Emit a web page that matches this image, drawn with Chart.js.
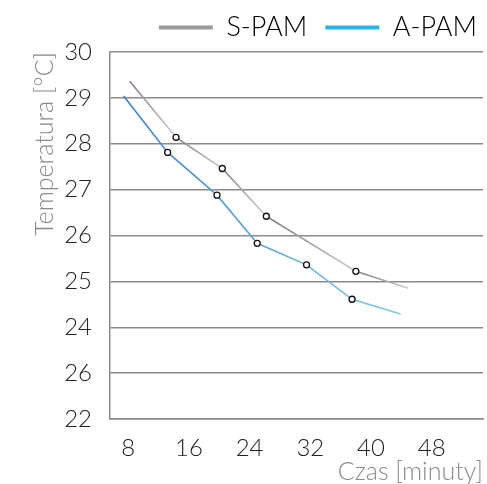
<!DOCTYPE html>
<html>
<head>
<meta charset="utf-8">
<script src="https://cdn.jsdelivr.net/npm/chart.js@4"></script>
<style>
  html, body { margin: 0; padding: 0; background: #fff; }
  #wrap { width: 487px; height: 484px; }
</style>
</head>
<body>
<div id="wrap"><canvas id="chart"></canvas></div>
<script>
const sPamX = [8.2, 14.3, 20.4, 26.2, 38.0, 44.9];
const sPamY = [29.36, 28.14, 27.46, 26.42, 25.22, 24.85];
const sPamMarks = [0, 1, 1, 1, 1, 0];

const aPamX = [7.4, 13.2, 19.7, 25.0, 31.5, 37.5, 43.9];
const aPamY = [29.04, 27.81, 26.88, 25.83, 25.36, 24.61, 24.29];
const aPamMarks = [0, 1, 1, 1, 1, 1, 0];

const xTicks = [8, 16, 24, 32, 40, 48];
// labels shown on the y axis, bottom to top (as printed in the original)
const yTickLabels = ["22", "26", "24", "25", "26", "27", "28", "29", "30"];

const font = "Lato";

function pts(xs, ys) {
  return xs.map((x, i) => ({ x, y: ys[i] }));
}

// each S-PAM segment fades from dark to light
function greySeg(ctx) {
  const c = ctx.chart.ctx;
  const g = c.createLinearGradient(ctx.p0.x, ctx.p0.y, ctx.p1.x, ctx.p1.y);
  g.addColorStop(0, "#8a7a8a");
  g.addColorStop(1, "#cdcdcd");
  return g;
}

function blueLine(ctx) {
  const area = ctx.chart.chartArea;
  if (!area) return "#4a9fdc";
  const g = ctx.chart.ctx.createLinearGradient(area.left, 0, area.right - 60, 0);
  g.addColorStop(0, "#3a7fcc");
  g.addColorStop(1, "#86d0ea");
  return g;
}

// tweak the space under the legend and push it to the right edge
const legendGap = {
  id: "legendGap",
  beforeInit(chart) {
    const fit = chart.legend.fit;
    chart.legend.fit = function () {
      fit.call(this);
      this.height += 1;
    };
  },
  afterLayout(chart) {
    chart.legend.left += 12;
    chart.legend.right += 12;
  }
};

new Chart(document.getElementById("chart"), {
  type: "line",
  data: {
    datasets: [
      {
        label: "S-PAM",
        data: pts(sPamX, sPamY),
        borderColor: "#999999",
        backgroundColor: "#999999",
        borderWidth: 1.6,
        segment: { borderColor: greySeg },
        pointRadius: sPamMarks.map(m => m ? 3 : 0),
        pointBorderColor: "#111",
        pointBackgroundColor: "#fff",
        pointBorderWidth: 1.3,
        tension: 0
      },
      {
        label: "A-PAM",
        data: pts(aPamX, aPamY),
        borderColor: blueLine,
        backgroundColor: "#27b3e6",
        borderWidth: 1.6,
        pointRadius: aPamMarks.map(m => m ? 3 : 0),
        pointBorderColor: "#111",
        pointBackgroundColor: "#fff",
        pointBorderWidth: 1.3,
        tension: 0
      }
    ]
  },
  plugins: [legendGap],
  options: {
    responsive: true,
    maintainAspectRatio: false,
    animation: false,
    layout: { padding: { left: 30, right: 4, top: -4, bottom: 0 } },
    plugins: {
      tooltip: { enabled: false },
      legend: {
        align: "end",
        labels: {
          boxWidth: 54,
          boxHeight: 4,
          padding: 18,
          color: "#222",
          font: { family: font, size: 27, weight: 300 },
          generateLabels: chart => chart.data.datasets.map((d, i) => ({
            text: d.label,
            fillStyle: i === 0 ? "#9b9b9b" : "#27b3e6",
            strokeStyle: i === 0 ? "#9b9b9b" : "#27b3e6",
            lineWidth: 0,
            datasetIndex: i
          }))
        }
      }
    },
    scales: {
      x: {
        type: "linear",
        min: 5.6,
        max: 54.76,
        afterBuildTicks: axis => { axis.ticks = xTicks.map(v => ({ value: v })); },
        afterFit: axis => { axis.height = 65; },
        grid: { display: false, drawTicks: false },
        border: { display: true, color: "#8a8a8a", width: 1.5 },
        ticks: {
          color: "#222",
          padding: 15,
          font: { family: font, size: 24, weight: 300 },
          maxRotation: 0
        },
        title: {
          display: true,
          text: "Czas [minuty]",
          align: "end",
          color: "#8a8a8a",
          padding: { top: 0, bottom: -3 },
          font: { family: font, size: 25, weight: 300 }
        }
      },
      y: {
        min: 22,
        max: 30,
        afterFit: axis => { axis.width = 80; },
        ticks: {
          stepSize: 1,
          color: "#222",
          padding: 18,
          font: { family: font, size: 24, weight: 300 },
          callback: v => yTickLabels[v - 22]
        },
        grid: { color: "#8a8a8a", lineWidth: 1.5, drawTicks: false },
        border: { display: true, color: "#8a8a8a", width: 1.5 },
        title: {
          display: true,
          text: "Temperatura [°C]",
          align: "end",
          color: "#8a8a8a",
          padding: { top: 0, bottom: 0 },
          font: { family: font, size: 25, weight: 300 }
        }
      }
    }
  }
});
</script>
</body>
</html>
